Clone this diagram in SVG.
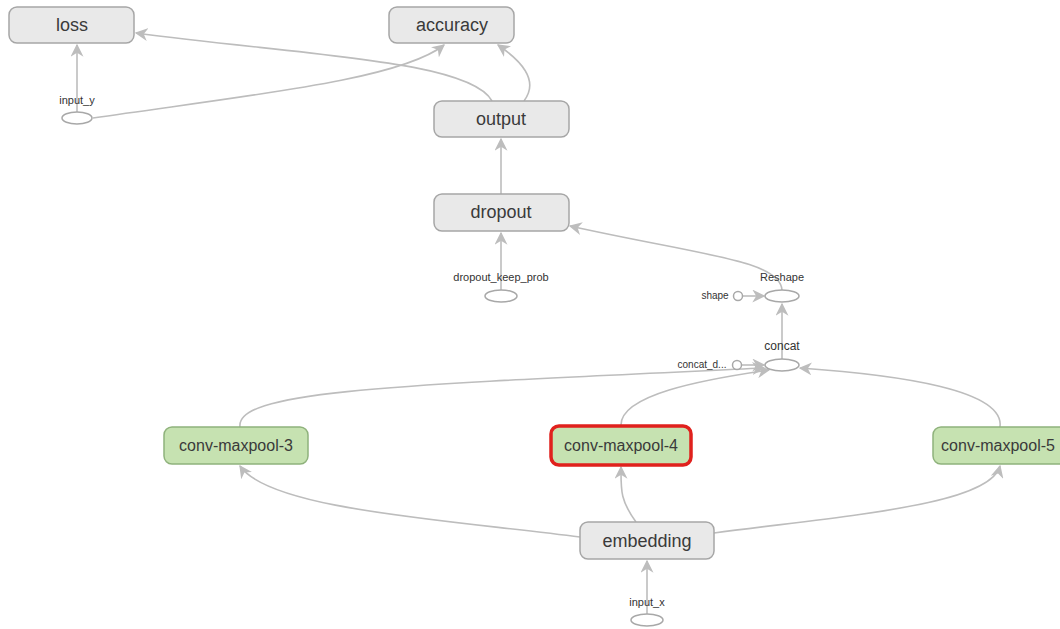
<svg xmlns="http://www.w3.org/2000/svg" width="1060" height="629" viewBox="0 0 1060 629">
  <style>
    .box { fill: #e9e9e9; stroke: #a6a6a6; stroke-width: 1.5; }
    .grn { fill: #c6e2b1; stroke: #8fb27c; stroke-width: 1.5; }
    .sel { fill: #c6e2b1; stroke: #e0211d; stroke-width: 3.5; }
    .lbl { font-family: "Liberation Sans", Arial, sans-serif; font-size: 18px; fill: #3a3a3a; text-anchor: middle; }
    .cv { font-size: 16px; }
    .sm { font-family: "Liberation Sans", Arial, sans-serif; font-size: 11px; fill: #333; text-anchor: middle; }
    .op { fill: #fff; stroke: #a8a8a8; stroke-width: 1.5; }
    .edge { fill: none; stroke: #bdbdbd; stroke-width: 1.6; marker-end: url(#arr); }
  </style>
  <defs>
    <marker id="arr" viewBox="0 0 10 10" refX="9" refY="5" markerWidth="13" markerHeight="13" markerUnits="userSpaceOnUse" orient="auto">
      <path d="M0,0 L10,5 L0,10 L3,5 Z" fill="#bdbdbd"/>
    </marker>
  </defs>
  <rect width="1060" height="629" fill="#ffffff"/>

  <g id="connectors">
    <path class="edge" d="M77,112 L77,45"/>
    <path class="edge" d="M93,118 C250,95 400,80 444,45"/>
    <path class="edge" d="M492,101 C470,60 300,55 136,33"/>
    <path class="edge" d="M524,101 C540,80 520,60 498,45"/>
    <path class="edge" d="M501,194 L501,139"/>
    <path class="edge" d="M501,290 L501,233"/>
    <path class="edge" d="M782,290 C780,260 700,255 570,226"/>
    <path class="edge" d="M743,296 L764,296"/>
    <path class="edge" d="M782,359 L782,304"/>
    <path class="edge" d="M742,365 L764,365"/>
    <path class="edge" d="M240,427 C235,390 400,385 764,368"/>
    <path class="edge" d="M621,425 C621,395 700,380 769,370"/>
    <path class="edge" d="M1000,427 C1005,390 900,375 800,368"/>
    <path class="edge" d="M580,537 C450,520 270,510 240,466"/>
    <path class="edge" d="M636,522 C620,500 621,490 621,467"/>
    <path class="edge" d="M714,533 C850,515 990,505 1000,466"/>
    <path class="edge" d="M647,614 L647,561"/>
  </g>

  <g id="loss"><rect class="box" x="9" y="7" width="125" height="36" rx="8"/><text class="lbl" x="72" y="31">loss</text></g>
  <g id="accuracy"><rect class="box" x="389" y="7" width="125" height="36" rx="8"/><text class="lbl" x="452" y="31">accuracy</text></g>
  <g id="input_y"><text class="sm" x="77" y="104">input_y</text><ellipse class="op" cx="77" cy="118" rx="15" ry="6"/></g>
  <g id="output"><rect class="box" x="434" y="101" width="135" height="36" rx="8"/><text class="lbl" x="501" y="125">output</text></g>
  <g id="dropout"><rect class="box" x="434" y="194" width="135" height="37" rx="8"/><text class="lbl" x="501" y="218">dropout</text></g>
  <g id="dropout_keep_prob"><text class="sm" x="501" y="281">dropout_keep_prob</text><ellipse class="op" cx="501" cy="296" rx="16" ry="6"/></g>
  <g id="Reshape"><text class="sm" x="782" y="281">Reshape</text><ellipse class="op" cx="782" cy="296" rx="17" ry="6"/></g>
  <g id="shape"><text class="sm" x="715" y="299" style="font-size:10px">shape</text><circle class="op" cx="738" cy="296" r="4.5"/></g>
  <g id="concat"><text class="sm" x="782" y="350" style="font-size:12px">concat</text><ellipse class="op" cx="782" cy="365" rx="17" ry="6"/></g>
  <g id="concat_dim"><text class="sm" x="702" y="368" style="font-size:10px">concat_d...</text><circle class="op" cx="737" cy="365" r="4.5"/></g>
  <g id="conv-maxpool-3"><rect class="grn" x="164" y="427" width="144" height="37" rx="8"/><text class="lbl cv" x="236" y="451">conv-maxpool-3</text></g>
  <g id="conv-maxpool-4"><rect class="sel" x="551" y="426" width="140" height="39" rx="8"/><text class="lbl cv" x="621" y="451">conv-maxpool-4</text></g>
  <g id="conv-maxpool-5"><rect class="grn" x="933" y="427" width="140" height="37" rx="8"/><text class="lbl cv" x="998" y="451">conv-maxpool-5</text></g>
  <g id="embedding"><rect class="box" x="580" y="522" width="134" height="37" rx="8"/><text class="lbl" x="647" y="547">embedding</text></g>
  <g id="input_x"><text class="sm" x="647" y="606">input_x</text><ellipse class="op" cx="647" cy="620" rx="16" ry="6"/></g>
</svg>
